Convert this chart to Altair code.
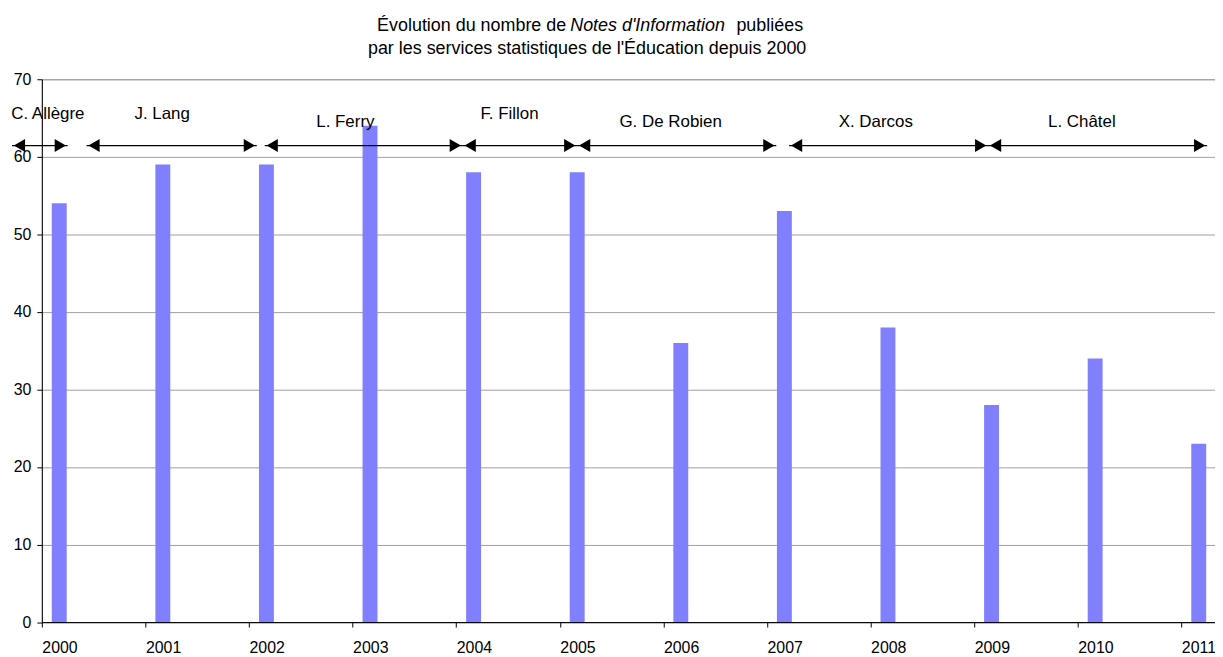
import altair as alt
import pandas as pd

# Data
years = [2000, 2001, 2002, 2003, 2004, 2005, 2006, 2007, 2008, 2009, 2010, 2011]
notes = [54, 59, 59, 64, 58, 58, 36, 53, 38, 28, 34, 23]

ministers = ["C. Allègre", "J. Lang", "L. Ferry", "F. Fillon", "G. De Robien", "X. Darcos", "L. Châtel"]
mandate_start = [1999.712, 2000.432, 2002.152, 2004.063, 2005.168, 2007.214, 2009.135]
mandate_end = [2000.25, 2002.075, 2004.063, 2005.168, 2007.09, 2009.135, 2011.249]
label_x = [2000.058, 2001.162, 2002.93, 2004.515, 2006.07, 2008.05, 2010.04]
label_y = [65.47, 65.47, 64.44, 65.47, 64.44, 64.44, 64.44]
arrow_y = 61.45

FONT = "Liberation Sans"
FS = 16

bars_df = pd.DataFrame({"annee": years, "notes": notes})
arr_df = pd.DataFrame({
    "ministre": ministers,
    "debut": mandate_start,
    "fin": mandate_end,
    "lx": label_x,
    "ly": label_y,
    "ay": [arrow_y] * len(ministers),
})

x_scale = alt.Scale(domain=[2000, 2011.325], nice=False, zero=False, padding=0)
y_scale = alt.Scale(domain=[0, 70], nice=False, padding=0)

bars = alt.Chart(bars_df).mark_bar(
    orient="vertical", width=15, xOffset=17.5, color="#8080FF"
).encode(
    x=alt.X("annee:Q", scale=x_scale,
            axis=alt.Axis(values=years, format="d", title=None, grid=False,
                          labelFont=FONT, labelFontSize=FS, labelColor="black",
                          labelAlign="left",
                          tickColor="black", tickSize=5, domainColor="black",
                          labelPadding=13, labelFlush=False, labelOverlap=False)),
    y=alt.Y("notes:Q", scale=y_scale,
            axis=alt.Axis(values=[0, 10, 20, 30, 40, 50, 60, 70], title=None,
                          labelFont=FONT, labelFontSize=FS, labelColor="black",
                          tickColor="black", tickSize=5, domainColor="black",
                          gridColor="#a0a0a0", gridWidth=1, labelPadding=6)),
)

rules = alt.Chart(arr_df).mark_rule(color="black", strokeWidth=1.3).encode(
    x=alt.X("debut:Q", scale=x_scale),
    x2="fin:Q",
    y=alt.Y("ay:Q", scale=y_scale),
)

heads_left = alt.Chart(arr_df).mark_point(
    shape="triangle-left", filled=True, color="black", size=169, opacity=1, xOffset=7.5
).encode(
    x=alt.X("debut:Q", scale=x_scale),
    y=alt.Y("ay:Q", scale=y_scale),
)

heads_right = alt.Chart(arr_df).mark_point(
    shape="triangle-right", filled=True, color="black", size=169, opacity=1, xOffset=-7.5
).encode(
    x=alt.X("fin:Q", scale=x_scale),
    y=alt.Y("ay:Q", scale=y_scale),
)

labels = alt.Chart(arr_df).mark_text(
    font=FONT, fontSize=17, color="black", align="center", baseline="middle"
).encode(
    x=alt.X("lx:Q", scale=x_scale),
    y=alt.Y("ly:Q", scale=y_scale),
    text="ministre:N",
)

TFS = 18
title_df = pd.DataFrame({"a": [0]})
t1a = alt.Chart(title_df).mark_text(
    font=FONT, fontSize=TFS, color="black", align="right", baseline="alphabetic"
).encode(x=alt.value(527), y=alt.value(-48), text=alt.value("Évolution du nombre de"))
t1b = alt.Chart(title_df).mark_text(
    font=FONT, fontSize=TFS, fontStyle="italic", color="black", align="left", baseline="alphabetic"
).encode(x=alt.value(531), y=alt.value(-48), text=alt.value("Notes d'Information"))
t1c = alt.Chart(title_df).mark_text(
    font=FONT, fontSize=TFS, color="black", align="left", baseline="alphabetic"
).encode(x=alt.value(698), y=alt.value(-48), text=alt.value("publiées"))
t2 = alt.Chart(title_df).mark_text(
    font=FONT, fontSize=TFS, color="black", align="center", baseline="alphabetic"
).encode(x=alt.value(548), y=alt.value(-25),
         text=alt.value("par les services statistiques de l'Éducation depuis 2000"))

chart = alt.layer(bars, rules, heads_left, heads_right, labels, t1a, t1b, t1c, t2).properties(
    width=1179,
    height=545.5,
    autosize=alt.AutoSizeParams(type="none"),
    padding={"left": 34, "top": 70, "right": 0, "bottom": 34},
    background="white",
).configure_view(stroke="#a0a0a0", strokeWidth=1)

chart.save("out.html", embed_options={"renderer": "svg", "actions": False})
